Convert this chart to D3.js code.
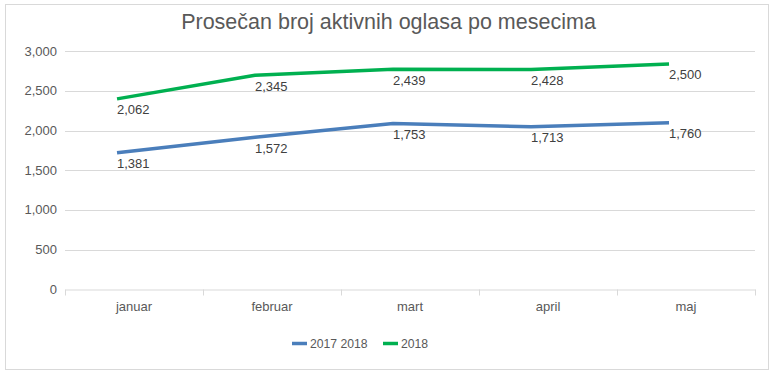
<!DOCTYPE html>
<html><head><meta charset="utf-8">
<script src="https://cdn.jsdelivr.net/npm/d3@7"></script>
<style>body{margin:0;background:#fff}svg{display:block}text{font-family:"Liberation Sans",Arial,sans-serif}</style>
</head><body><svg id="c" width="777" height="374"></svg>
<script>
const months = ["januar","februar","mart","april","maj"];
const seriesNames = ["2017 2018","2018"];
const plotted2017 = [1720,1918,2091,2048,2098];
const plotted2018 = [2400,2699,2774,2771,2841];
const labels2017 = ["1,381","1,572","1,753","1,713","1,760"];
const labels2018 = ["2,062","2,345","2,439","2,428","2,500"];
const yTicks = [0,500,1000,1500,2000,2500,3000];
const colors = ["#4a7ebb","#00b050"];

const svg = d3.select("#c");
svg.append("rect").attr("x",5.5).attr("y",4.5).attr("width",763).attr("height",365).attr("fill","#fff").attr("stroke","#d9d9d9");
svg.append("text").attr("x",388.5).attr("y",29).attr("text-anchor","middle").attr("font-size",21.5).attr("fill","#595959").text("Prosečan broj aktivnih oglasa po mesecima");

const x = d3.scaleBand().domain(months).range([65,755]);
const y = d3.scaleLinear().domain([0,3000]).range([289.3,51.3]);
const px = d => x(d)+x.bandwidth()*0.377;

const g = svg.append("g");
g.selectAll("line.grid").data(yTicks.slice(1)).join("line").attr("class","grid")
 .attr("x1",65).attr("x2",755).attr("y1",d=>Math.round(y(d))+0.5).attr("y2",d=>Math.round(y(d))+0.5)
 .attr("stroke","#d9d9d9").attr("stroke-width",1);
g.selectAll("text.yt").data(yTicks).join("text").attr("class","yt")
 .attr("x",57).attr("y",d=>y(d)+4.5).attr("text-anchor","end").attr("font-size",13).attr("fill","#595959")
 .text(d=>d3.format(",")(d));
const xa = svg.append("g").attr("transform",`translate(0,${Math.round(y(0))+0.5})`)
 .call(d3.axisBottom(x).tickSize(0).tickPadding(12));
xa.select(".domain").attr("stroke","#d9d9d9");
xa.selectAll("text").attr("font-size",13).attr("fill","#595959").attr("font-family","Liberation Sans, Arial, sans-serif");
const bounds = months.map(m=>x(m)).concat([x.range()[1]]);
xa.selectAll("line.tk").data(bounds).join("line").attr("class","tk")
 .attr("x1",d=>Math.round(d)+0.5).attr("x2",d=>Math.round(d)+0.5).attr("y1",0).attr("y2",6).attr("stroke","#d9d9d9");

const series = [
 {vals:plotted2017, labs:labels2017, color:colors[0]},
 {vals:plotted2018, labs:labels2018, color:colors[1]}
];
const line = d3.line().x((d,i)=>px(months[i])).y(d=>y(d));
series.forEach(s=>{
  svg.append("path").datum(s.vals).attr("d",line).attr("fill","none").attr("stroke",s.color).attr("stroke-width",3.5).attr("stroke-linejoin","round");
  svg.selectAll(null).data(s.vals).join("text").attr("x",(d,i)=>px(months[i])).attr("y",d=>y(d)+15.5)
   .attr("font-size",13).attr("fill","#404040").text((d,i)=>s.labs[i]);
});

const leg = [{x:292,name:seriesNames[0],c:colors[0]},{x:383,name:seriesNames[1],c:colors[1]}];
leg.forEach(l=>{
  svg.append("line").attr("x1",l.x).attr("x2",l.x+15).attr("y1",343.5).attr("y2",343.5).attr("stroke",l.c).attr("stroke-width",3.5);
  svg.append("text").attr("x",l.x+18).attr("y",348).attr("font-size",12.2).attr("fill","#595959").text(l.name);
});
</script></body></html>
